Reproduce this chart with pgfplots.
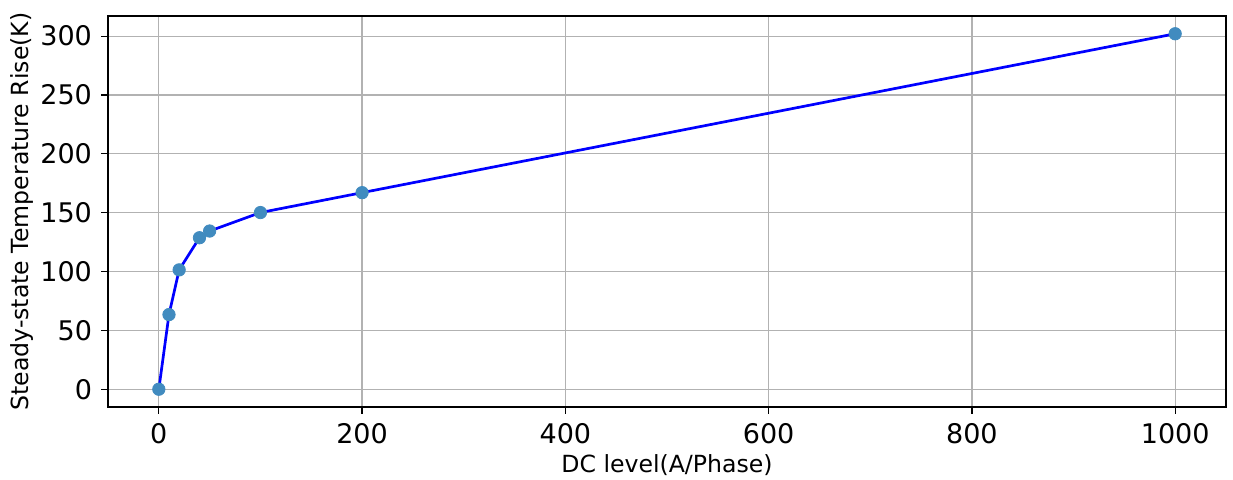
\documentclass[border=0pt]{standalone}
\usepackage{fontspec}
\setmainfont{DejaVu Sans}
\usepackage{pgfplots}
\pgfplotsset{compat=1.18}
\definecolor{mplblue}{HTML}{1F77B4}
\begin{document}
\begin{tikzpicture}
\path[use as bounding box] (-54pt,-36.5pt) rectangle (562.5pt,203.5pt);
\begin{axis}[
  at={(0pt,0pt)}, anchor=south west,
  scale only axis,
  width=559pt, height=195.5pt,
  xmin=-50, xmax=1050,
  ymin=-15.1, ymax=317.1,
  xtick={0,200,400,600,800,1000},
  ytick={0,50,100,150,200,250,300},
  /pgf/number format/assume math mode=true,
  /pgf/number format/1000 sep={},
  tick label style={font=\fontsize{13.5}{15}\selectfont},
  label style={font=\fontsize{11.8}{13}\selectfont},
  xlabel={DC level(A/Phase)},
  ylabel={Steady-state Temperature Rise(K)},
  xlabel style={at={(axis description cs:0.5,0)}, anchor=center, yshift=-29pt},
  ylabel style={at={(axis description cs:0,0.5)}, anchor=center, rotate=0, yshift=43pt},
  grid=major,
  major grid style={color=black!30, line width=0.6pt},
  axis line style={black, line width=0.6pt},
  tick style={black, line width=0.6pt},
  tick align=outside,
  major tick length=3.5pt,
  xtick pos=bottom, ytick pos=left,
  xticklabel style={yshift=-1pt},
  yticklabel style={xshift=-1pt},
  scaled x ticks=false,
  clip=false,
]
\addplot[only marks, mark=*, mark size=3.1pt, mark options={draw=mplblue!85, fill=mplblue!85}] coordinates {
(0,0) (10,63.4) (20,101.4) (40,128.7) (50,134.4) (100,150.1) (200,167) (1000,302)
};
\addplot[color=blue, line width=1.35pt, mark=none] coordinates {
(0,0) (10,63.4) (20,101.4) (40,128.7) (50,134.4) (100,150.1) (200,167) (1000,302)
};
\end{axis}
\end{tikzpicture}
\end{document}
